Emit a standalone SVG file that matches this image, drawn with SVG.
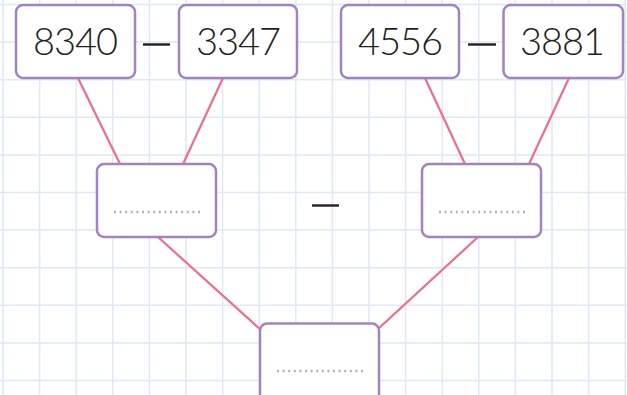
<svg xmlns="http://www.w3.org/2000/svg" width="627" height="395" viewBox="0 0 627 395">
<defs>
<style>
.grid line{stroke:#dde9f6;stroke-width:1.5}
.box{fill:#ffffff;stroke:#a282c0;stroke-width:2.5}
.num{font-family:"Lato","Liberation Sans",sans-serif;font-weight:300;font-size:38px;letter-spacing:-1px;fill:#231f20;text-anchor:middle}
.conn line{stroke:#f06c88;stroke-width:2.2;stroke-linecap:round}
.dots{stroke:#b3b3b3;stroke-width:2.4;stroke-dasharray:2 3.6}
.minus{stroke:#231f20;stroke-width:2.4}
</style>
</defs>
<rect x="0" y="0" width="627" height="395" fill="#ffffff"/>
<g class="grid">
<line x1="3" y1="0" x2="3" y2="395"/><line x1="39.6" y1="0" x2="39.6" y2="395"/><line x1="76.2" y1="0" x2="76.2" y2="395"/><line x1="112.8" y1="0" x2="112.8" y2="395"/><line x1="149.4" y1="0" x2="149.4" y2="395"/><line x1="186" y1="0" x2="186" y2="395"/><line x1="222.6" y1="0" x2="222.6" y2="395"/><line x1="259.2" y1="0" x2="259.2" y2="395"/><line x1="295.8" y1="0" x2="295.8" y2="395"/><line x1="332.4" y1="0" x2="332.4" y2="395"/><line x1="369" y1="0" x2="369" y2="395"/><line x1="405.6" y1="0" x2="405.6" y2="395"/><line x1="442.2" y1="0" x2="442.2" y2="395"/><line x1="478.8" y1="0" x2="478.8" y2="395"/><line x1="515.4" y1="0" x2="515.4" y2="395"/><line x1="552" y1="0" x2="552" y2="395"/><line x1="588.6" y1="0" x2="588.6" y2="395"/><line x1="625.2" y1="0" x2="625.2" y2="395"/>
<line x1="0" y1="4.5" x2="627" y2="4.5"/><line x1="0" y1="42.1" x2="627" y2="42.1"/><line x1="0" y1="79.7" x2="627" y2="79.7"/><line x1="0" y1="117.3" x2="627" y2="117.3"/><line x1="0" y1="154.9" x2="627" y2="154.9"/><line x1="0" y1="192.5" x2="627" y2="192.5"/><line x1="0" y1="230.1" x2="627" y2="230.1"/><line x1="0" y1="267.7" x2="627" y2="267.7"/><line x1="0" y1="305.3" x2="627" y2="305.3"/><line x1="0" y1="342.9" x2="627" y2="342.9"/><line x1="0" y1="380.5" x2="627" y2="380.5"/>
</g>
<g id="connectors" class="conn">
<line x1="78" y1="78" x2="120" y2="164"/>
<line x1="223" y1="78" x2="183" y2="164"/>
<line x1="425" y1="78" x2="465" y2="164"/>
<line x1="569" y1="78" x2="529" y2="164"/>
<line x1="158" y1="237" x2="262" y2="331"/>
<line x1="478" y1="237" x2="378" y2="329"/>
</g>
<g id="n8340"><rect class="box" x="16" y="5" width="119" height="73" rx="7"/><text class="num" x="75" y="55">8340</text></g>
<g id="op1"><line class="minus" x1="143" y1="44.5" x2="170" y2="44.5"/></g>
<g id="n3347"><rect class="box" x="179" y="5" width="118" height="73" rx="7"/><text class="num" x="238" y="55">3347</text></g>
<g id="n4556"><rect class="box" x="341" y="5" width="118" height="73" rx="7"/><text class="num" x="400" y="55">4556</text></g>
<g id="op2"><line class="minus" x1="468" y1="44.5" x2="496" y2="44.5"/></g>
<g id="n3881"><rect class="box" x="503.5" y="5" width="119.5" height="73" rx="7"/><text class="num" x="562" y="55">3881</text></g>
<g id="mid1"><rect class="box" x="97" y="164" width="119" height="73" rx="7"/><line class="dots" x1="114" y1="212" x2="202" y2="212"/></g>
<g id="op3"><line class="minus" x1="312" y1="205.5" x2="339" y2="205.5"/></g>
<g id="mid2"><rect class="box" x="422" y="164" width="119" height="73" rx="7"/><line class="dots" x1="439" y1="212" x2="527" y2="212"/></g>
<g id="result"><rect class="box" x="260" y="323.5" width="119" height="80" rx="7"/><line class="dots" x1="277" y1="371" x2="365" y2="371"/></g>
</svg>
